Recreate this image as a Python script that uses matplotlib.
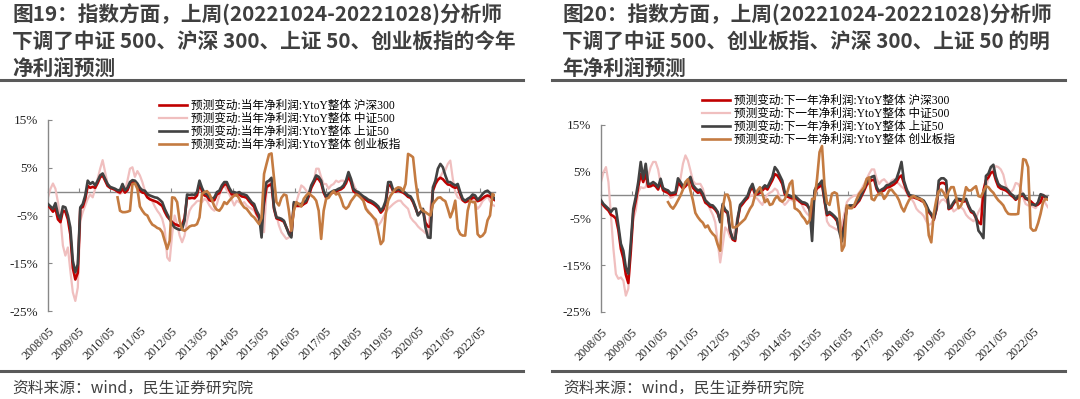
import numpy as np
import pandas as pd
import matplotlib
matplotlib.use('Agg')
import matplotlib.pyplot as plt
import matplotlib.dates as mdates

plt.rcParams['font.family'] = ['Liberation Serif', 'Noto Sans CJK SC']
plt.rcParams['axes.unicode_minus'] = False

# ---------------- data (readings sampled about every 29.4 days from 2008-05) -------------
START = '2008-05-01'
STEP_DAYS = 29.4

L_HS300 = [-2.8,-3.5,-4.2,-3.5,-5.8,-6.4,-4.0,-4.2,-5.8,-9.0,
 -16.0,-18.4,-17.0,-3.5,-3.2,-1.5,1.2,0.8,1.0,0.8,
 1.8,3.0,3.4,2.3,1.2,0.8,0.6,0.4,0.0,-0.2,
 0.6,-0.2,0.3,1.6,2.0,2.0,1.3,0.3,-0.2,-0.3,
 -1.2,-1.6,-1.8,-2.0,-2.2,-2.6,-3.0,-4.2,-5.2,-5.8,
 -6.4,-6.8,-7.0,-7.2,-7.0,-5.5,-1.3,-1.4,-1.3,-1.4,
 -0.8,1.6,0.2,-0.8,-1.0,-1.8,-2.0,-1.8,-0.6,-0.3,
 0.8,1.5,1.5,0.3,-0.6,-0.6,-0.8,-0.6,-1.0,-1.1,
 -1.3,-2.0,-2.6,-3.2,-4.6,-5.5,-7.0,-2.5,
 1.0,1.3,1.6,-3.6,-5.6,-5.8,-6.0,-6.3,-7.5,-8.6,-9.2,
 -2.6,-3.0,-3.0,-3.0,-2.6,-2.3,-1.0,0.8,1.8,2.8,2.6,1.8,-0.2,
 -1.3,-0.8,-0.4,-0.1,0.0,0.3,0.5,0.9,1.8,3.2,2.0,0.1,-0.3,-0.5,
 -1.0,-1.4,-1.7,-2.1,-2.3,-2.6,-3.0,-3.5,-4.4,-3.8,-2.3,
 1.3,1.3,0.0,0.0,0.3,0.0,-0.2,-0.6,-1.1,-1.3,-2.2,-3.5,-4.8,-4.3,-3.8,-6.5,-7.3,-7.4,
 0.2,1.6,2.5,2.9,2.6,2.0,1.5,1.4,1.0,0.8,1.0,
 -0.6,-1.8,-2.2,-2.0,-1.8,-1.2,-1.3,-2.0,
 -1.8,-1.4,-1.0,-0.8,-1.0,-1.5,-1.8]

L_ZZ500 = [-1.2,0.6,1.7,0.6,-2.2,-5.4,-11.3,-13.4,-11.7,-16.6,
 -21.1,-22.9,-20.1,-6.1,-4.3,-2.9,-1.5,-0.6,-1.2,0.6,
 2.7,4.8,6.6,4.1,1.6,0.8,0.6,0.3,-0.1,-0.5,
 -0.1,0.2,2.3,4.8,5.1,3.1,4.3,3.4,2.0,0.2,
 -1.0,-1.5,-2.0,-3.1,-4.0,-4.7,-5.7,-7.8,-13.8,-14.5,
 -8.9,-5.0,-6.8,-9.2,-10.6,-9.2,-6.1,-4.0,-3.1,-2.6,
 -2.0,-1.9,-2.2,-1.5,-1.9,-2.9,-3.6,-4.0,-2.6,-0.8,
 0.6,1.3,0.3,-0.5,-1.7,-2.9,-1.9,-2.2,-2.6,-2.2,
 -2.9,-3.3,-3.6,-4.0,-5.0,-6.1,-7.8,-8.5,
 0.2,2.0,2.0,-2.9,-5.0,-7.1,-8.5,-9.2,-9.9,-9.6,
 -8.5,-4.0,-2.2,-0.5,1.3,0.9,0.2,-0.5,0.6,2.0,
 4.8,4.8,3.0,1.6,1.6,0.6,1.3,1.6,2.3,2.0,
 2.3,2.3,1.6,3.0,2.7,1.6,0.3,-0.8,-1.3,-1.9,
 -3.3,-4.0,-4.7,-5.4,-6.8,-7.1,-6.4,-5.4,-4.3,-3.6,
 -3.1,-2.6,-2.2,-1.9,-1.9,-2.6,-3.1,-3.6,-5.4,-6.1,
 -6.6,-7.3,-7.8,-8.2,-8.7,-8.9,-3.3,0.6,2.0,2.4,
 3.1,4.1,4.5,5.8,6.5,2.7,-0.1,-1.2,-1.5,-1.9,
 -2.2,-1.9,-1.2,-1.5,-2.6,-3.6,
 -3.0,-2.0,-1.5,-1.0,-2.0,-2.8,-3.0]

L_SZ50 = [-2.6,-3.1,-3.6,-2.4,-4.7,-5.7,-3.1,-3.3,-5.0,-7.5,
 -14.5,-16.9,-15.2,-3.3,-2.6,-0.8,2.3,1.6,2.0,1.3,
 2.3,3.4,3.8,2.7,1.6,1.0,0.8,0.6,0.3,0.3,
 1.6,0.3,0.8,2.0,2.4,2.3,1.7,0.8,0.3,0.2,
 -0.5,-0.8,-1.0,-1.2,-1.3,-1.7,-2.2,-3.6,-4.7,-5.7,
 -6.8,-7.5,-7.8,-8.0,-7.8,-6.1,-0.6,-0.7,-0.6,-0.7,
 -0.1,2.3,0.8,-0.3,-0.5,-1.2,-1.5,-1.2,-0.1,0.2,
 1.3,2.0,2.0,0.8,-0.1,-0.1,-0.3,-0.1,-0.5,-0.6,
 -0.8,-1.5,-2.2,-2.6,-4.0,-5.0,-9.6,-1.0,
 2.0,2.3,2.9,-3.3,-5.4,-5.5,-5.7,-6.1,-7.5,-8.9,-9.6,
 -2.2,-2.6,-2.6,-2.6,-2.2,-1.9,-0.5,1.3,2.3,3.4,3.1,2.3,0.2,
 -1.0,-0.5,-0.1,0.2,0.3,0.6,0.8,1.3,2.3,4.1,2.7,0.6,0.1,-0.1,
 -0.6,-1.0,-1.3,-1.7,-1.9,-2.2,-2.6,-3.1,-4.0,-3.3,-1.9,
 2.0,2.0,0.3,0.3,0.6,0.3,0.1,-0.3,-0.8,-1.0,-1.9,-3.3,-5.0,-4.3,-3.6,-7.5,-9.6,-9.7,
 0.9,2.3,4.8,5.8,5.1,3.4,2.0,2.0,1.6,1.3,1.6,
 -0.1,-1.5,-1.9,-1.5,-1.2,-0.6,-0.8,-1.7,
 -1.2,-0.5,0.0,0.2,-0.3,-1.0,-1.5]

L_CYB_OFFSET = 28
L_CYB = [-1.2,-4.0,-4.3,-4.3,-4.2,-4.0,1.6,1.7,0.6,-3.1,
 -4.0,-4.7,-5.0,-6.1,-6.9,-7.2,-7.6,-7.8,-8.5,-10.3,
 -12.0,-10.3,-1.2,-1.3,-2.2,-6.1,-8.0,-8.2,-7.8,-7.3,
 -7.1,-7.1,-6.8,-5.4,-0.5,-0.1,0.1,-0.5,-1.7,-3.1,
 -3.8,-4.0,-3.3,-2.2,-2.6,-1.9,-1.3,-0.8,-0.6,-1.5,
 -2.6,-3.3,-3.6,-4.3,-5.0,-5.4,-6.1,-6.8,-5.5,3.7,
 5.8,7.8,8.0,3.0,-2.2,-2.9,-1.3,-0.6,-0.8,-4.0,
 -8.2,-4.0,-2.2,-2.6,-3.1,-1.5,-0.8,-0.3,-0.8,-1.2,
 -1.9,-4.0,-9.9,-4.0,-1.5,-1.3,-0.5,0.1,-0.6,-0.3,
 -1.5,-3.1,-3.6,-3.1,-2.0,-1.3,-0.6,-0.8,-1.3,-1.9,
 -3.6,-4.3,-4.8,-5.4,-5.9,-8.5,-11.0,-10.3,-4.7,-1.9,
 -0.8,-0.1,0.6,0.9,0.8,0.1,1.6,7.9,7.6,7.2,
 2.3,-1.5,-3.4,-4.0,-4.3,-4.7,-5.0,-2.6,-1.9,-1.3,
 -1.2,-1.7,-2.0,-3.6,-5.4,-4.0,-1.9,-7.8,-8.9,-9.2,
 -9.2,-4.0,-1.9,-2.2,-2.2,-8.9,
 -9.5,-9.2,-8.5,-6.0,-5.0,-0.5,-0.8]

R_HS300 = [-1.5,-2.2,-2.8,-3.3,-4.2,-4.5,-5.0,-7.5,-11.5,-13.5,
 -17.0,-18.8,-12.0,-3.8,-1.2,1.8,4.5,2.8,4.5,1.8,
 1.9,2.2,1.9,1.2,2.8,1.0,0.7,0.5,0.0,0.1,
 0.2,2.6,2.1,1.4,1.9,2.5,3.2,1.6,1.0,0.5,
 0.7,-0.2,-1.6,-2.0,-2.5,-2.6,-3.1,-3.9,-5.5,-2.3,
 -3.4,-3.9,-7.8,-9.5,-9.8,-5.5,-2.5,-1.9,-1.2,-0.6,
 0.9,1.8,0.2,0.2,0.5,1.0,1.6,1.2,2.2,3.2,
 4.5,4.2,3.4,2.4,0.2,-0.3,-0.5,-0.7,-0.5,-0.9,
 -1.4,-1.8,-1.9,-2.2,-3.0,-5.0,
 0.5,1.5,1.8,2.4,-1.2,-4.3,-4.0,-4.3,-4.8,-5.5,
 -7.5,-8.7,-6.0,-2.9,-2.5,-2.5,-2.5,-1.8,-1.2,-0.1,
 1.0,2.2,2.8,3.2,3.3,1.3,0.4,0.8,1.0,1.6,
 1.7,2.0,2.3,2.8,3.8,4.2,2.5,1.0,-0.2,-0.4,
 -0.5,-0.7,-0.9,-1.2,-1.5,-2.4,-3.6,-4.3,-5.3,-3.2,
 2.2,2.6,2.6,2.2,-3.0,-2.7,-1.8,-1.1,-1.1,-1.2,
 -1.4,-1.1,-2.5,-3.6,-3.9,-4.9,-5.8,-6.2,1.0,3.2,
 3.8,4.8,5.0,3.2,1.8,1.4,1.2,1.0,0.6,0.0,
 -0.4,-1.0,-0.5,-0.2,0.0,-0.8,-1.0,-1.3,
 -1.8,-2.2,-2.0,-1.5,0.0,-0.5,-0.6]

R_ZZ500 = [2.8,4.9,6.0,2.8,-4.4,-11.5,-16.9,-17.9,-17.6,-18.3,
 -21.5,-20.0,-10.8,-5.1,-3.3,0.6,1.7,1.5,1.7,4.2,
 6.0,7.1,7.1,5.5,2.4,1.7,1.0,0.3,-0.6,-0.4,
 0.3,1.7,3.5,6.7,8.5,7.4,5.3,3.1,2.4,2.4,
 2.4,1.4,-0.8,-1.9,-3.1,-4.2,-5.8,-10.1,-14.4,-10.8,
 -6.9,-7.6,-9.0,-9.4,-7.2,-4.4,-2.9,-1.9,-1.1,-0.8,
 -0.2,-0.1,-0.4,-0.8,-1.5,-2.1,-0.8,0.1,0.5,0.8,
 1.4,1.0,-0.6,-1.4,-2.1,-1.5,-0.8,-1.1,-1.4,-0.8,
 -1.1,-2.2,-3.3,-4.0,-4.5,-5.2,
 -0.4,1.2,1.9,2.4,-1.5,-5.6,-6.5,-6.8,-7.1,-7.4,
 -7.8,-6.1,-4.0,-1.5,-0.8,-0.4,-0.1,-0.1,0.6,1.4,
 2.4,3.5,4.6,5.5,5.5,3.5,2.4,3.1,3.4,2.8,
 2.2,3.1,3.4,2.8,2.4,1.8,1.4,0.6,-0.4,-0.8,
 -1.6,-2.9,-3.5,-3.9,-4.5,-5.6,-6.4,-6.1,-4.9,-3.3,
 -1.9,-1.1,-0.9,-1.4,-1.9,-2.4,-3.5,-3.1,-2.6,-2.6,
 -3.1,-4.2,-4.8,-5.2,-5.6,-4.9,-3.6,-2.6,0.3,1.7,
 3.5,4.8,5.6,6.2,6.0,5.5,4.4,2.1,1.0,0.6,
 1.2,2.6,2.4,1.4,-0.6,-1.9,-2.2,-2.2,
 -2.5,-2.8,-2.0,-1.5,-0.5,-1.8,-2.6]

R_SZ50 = [-1.1,-1.9,-2.4,-2.9,-3.6,-2.9,-2.9,-6.5,-10.4,-11.9,
 -15.5,-16.8,-10.1,-2.9,-0.4,2.8,7.1,3.5,6.7,2.4,
 2.4,2.8,2.4,1.7,3.5,1.5,1.2,1.0,0.4,0.5,
 0.6,3.6,2.8,1.9,2.4,3.1,3.9,2.2,1.5,1.0,
 1.2,0.3,-1.1,-1.6,-2.1,-2.2,-2.8,-3.6,-5.8,-1.9,
 -3.1,-3.6,-7.6,-9.2,-9.4,-5.1,-2.1,-1.5,-0.8,-0.2,
 1.4,2.4,0.6,0.6,1.0,1.5,2.1,1.7,2.8,3.9,
 6.0,5.3,4.2,3.1,0.6,0.1,-0.1,-0.4,-0.1,-0.6,
 -1.1,-1.5,-1.6,-1.9,-3.0,-9.8,
 1.0,2.1,2.4,3.1,-0.8,-4.0,-3.6,-4.0,-4.5,-5.1,
 -7.9,-9.9,-6.5,-2.6,-2.2,-2.2,-2.2,-1.5,-0.9,0.3,
 1.5,2.8,3.5,3.9,4.1,1.7,0.8,1.2,1.5,2.1,
 2.2,2.6,2.9,3.5,5.1,7.1,3.1,1.4,0.1,-0.1,
 -0.2,-0.4,-0.6,-0.9,-1.2,-2.1,-3.3,-4.0,-5.1,-2.9,
 3.1,3.6,3.6,3.1,-2.8,-2.4,-1.5,-0.8,-0.8,-0.9,
 -1.1,-0.8,-2.2,-3.3,-3.6,-4.7,-7.6,-8.3,-9.2,4.1,
 4.6,6.0,6.5,3.9,2.4,1.9,1.7,1.5,1.0,0.3,
 -0.1,-0.8,-0.2,0.1,0.3,-0.6,-0.8,-2.0,
 -2.0,-2.2,-1.5,0.2,0.0,-0.4,-0.6]

R_CYB_OFFSET = 27
R_CYB = [-1.5,-2.4,-2.9,-2.1,-1.1,-0.1,1.2,2.8,3.4,1.0,
 -1.1,-3.8,-4.7,-5.4,-5.9,-6.9,-6.5,-7.6,-8.3,-8.8,
 -10.6,-11.9,-2.9,0.1,0.1,-1.5,-6.9,-6.9,-6.6,-6.1,
 -5.6,-5.1,-4.0,-2.9,-2.1,-0.1,1.0,1.7,0.3,-1.5,
 -0.9,-2.1,-1.9,-0.8,-0.2,-1.1,-1.4,-0.9,0.6,2.4,
 3.1,-2.8,-3.1,-3.6,-4.5,-5.1,-6.1,-5.4,-0.8,
 -0.8,3.5,9.2,10.5,2.1,-1.6,-2.1,0.3,0.6,0.3,
 -4.0,-11.9,-10.8,-2.2,-2.8,-2.8,-2.1,-0.8,0.3,1.0,
 1.7,3.5,3.8,-0.8,-1.1,-0.1,0.3,0.5,-0.8,-0.1,
 1.0,1.2,0.5,-0.1,-1.1,-2.6,-3.5,-2.2,-1.1,-0.4,
 -0.2,-0.6,-0.8,-0.9,-1.6,-2.8,-8.6,-10.1,-4.0,-1.1,
 0.8,1.2,0.5,-0.6,0.8,1.7,1.7,-0.4,-2.8,-2.2,
 -0.8,1.7,1.0,1.0,1.5,1.9,-0.2,-0.4,0.8,1.9,
 1.7,1.0,0.5,-0.4,-1.1,-1.6,-2.2,-3.3,-4.0,-4.1,
 -4.1,-4.1,-4.0,2.0,7.7,7.5,6.0,-7.0,
 -7.6,-7.5,-6.0,-4.0,-1.5,-0.8,-1.0]

Y_TICKS = [-25, -15, -5, 5, 15]
SERIES_NAMES = ['沪深300', '中证500', '上证50', '创业板指']
LEFT_PREFIX = '预测变动:当年净利润:YtoY整体 '
RIGHT_PREFIX = '预测变动:下一年净利润:YtoY整体 '

LEFT_TITLE = ['图19：指数方面，上周(20221024-20221028)分析师',
              '下调了中证 500、沪深 300、上证 50、创业板指的今年',
              '净利润预测']
RIGHT_TITLE = ['图20：指数方面，上周(20221024-20221028)分析师',
               '下调了中证 500、创业板指、沪深 300、上证 50 的明',
               '年净利润预测']
SOURCE = '资料来源：wind，民生证券研究院'

COLORS = ['#C00000', '#F0BFBF', '#424242', '#C47B41']
WIDTHS = [1.9, 1.6, 1.9, 1.9]
ZORDER = [3, 2, 4, 5]

W, H = 1080, 399
fig = plt.figure(figsize=(W / 100, H / 100), dpi=100)
fig.patch.set_facecolor('white')

step = pd.Timedelta(days=STEP_DAYS)


def dates_for(vals, offset=0):
    d = pd.date_range(pd.Timestamp(START) + offset * step, periods=len(vals), freq=step)
    return mdates.date2num(d.to_pydatetime())


def fx(px):
    return px / W


def fy(py):
    return 1 - py / H


def panel(rect, series, offsets, prefix, leg_xy):
    ax = fig.add_axes(rect)
    lines = []
    for vals, off, c, lw, z in zip(series, offsets, COLORS, WIDTHS, ZORDER):
        x = dates_for(vals, off)
        ln, = ax.plot(x, vals, color=c, lw=lw, zorder=z, solid_joinstyle='round')
        lines.append(ln)
    x0 = mdates.date2num(pd.Timestamp(START).to_pydatetime())
    x1 = dates_for(series[2])[-1]
    ax.set_xlim(x0, x1)
    ax.set_ylim(-25, 15)
    ax.set_yticks(Y_TICKS)
    ax.set_yticklabels([f'{v}%' for v in Y_TICKS])
    ax.tick_params(axis='y', direction='in', length=3, color='#888888', pad=7,
                   labelsize=9.5, labelcolor='#262626')
    for s in ['top', 'right']:
        ax.spines[s].set_visible(False)
    ax.spines['left'].set_color('#888888')
    ax.spines['left'].set_linewidth(1.0)
    ax.spines['bottom'].set_position(('data', 0))
    ax.spines['bottom'].set_color('#888888')
    ax.spines['bottom'].set_linewidth(1.0)
    ax.spines['bottom'].set_zorder(1)
    tick_dates = pd.date_range(START, mdates.num2date(x1).replace(tzinfo=None),
                               freq=pd.DateOffset(years=1))
    ticks = list(mdates.date2num(tick_dates.to_pydatetime()))
    ax.set_xticks(ticks)
    ax.tick_params(axis='x', direction='in', length=3, color='#888888', labelbottom=False)
    sec = ax.secondary_xaxis(0.0)
    sec.set_xticks(ticks, labels=[d.strftime('%Y/%m') for d in tick_dates],
                   rotation=45, ha='right', rotation_mode='anchor')
    sec.tick_params(axis='x', length=0, pad=10, labelsize=8.8, labelcolor='#262626')
    sec.spines['bottom'].set_visible(False)
    ax.patch.set_alpha(0)
    ax.legend(lines, [prefix + n for n in SERIES_NAMES], loc='upper left',
              bbox_to_anchor=leg_xy, bbox_transform=fig.transFigure, frameon=False,
              fontsize=8.4, handlelength=2.4, handletextpad=0.35, labelspacing=0.08,
              borderpad=0, borderaxespad=0)
    return ax


panel([fx(48), fy(311), fx(447), (311 - 120) / H],
      [L_HS300, L_ZZ500, L_SZ50, L_CYB], [0, 0, 0, L_CYB_OFFSET],
      LEFT_PREFIX, (fx(159), fy(100)))
panel([fx(601), fy(312), fx(447), (312 - 125) / H],
      [R_HS300, R_ZZ500, R_SZ50, R_CYB], [0, 0, 0, R_CYB_OFFSET],
      RIGHT_PREFIX, (fx(702), fy(95)))

title_font = ['Noto Sans CJK SC']
for lines_, x in [(LEFT_TITLE, 12), (RIGHT_TITLE, 562)]:
    for i, t in enumerate(lines_):
        fig.text(fx(x), fy(15 + 26.5 * i), t, fontsize=14.9, fontweight='bold',
                 family=title_font, color='#3F3F3F', va='center', ha='left')

for xa, xb, xs in [(0, 523, 12), (552, 1065, 563)]:
    fig.add_artist(plt.Line2D([fx(xa), fx(xb)], [fy(80), fy(80)], color='#5A5A5A', lw=2.2,
                              transform=fig.transFigure))
    fig.add_artist(plt.Line2D([fx(xa), fx(xb)], [fy(371), fy(371)], color='#5A5A5A', lw=2.2,
                              transform=fig.transFigure))
    fig.text(fx(xs), fy(388), SOURCE, fontsize=11.3, family=title_font, color='#404040',
             va='center', ha='left')

fig.savefig('out.png', dpi=100, facecolor='white')
